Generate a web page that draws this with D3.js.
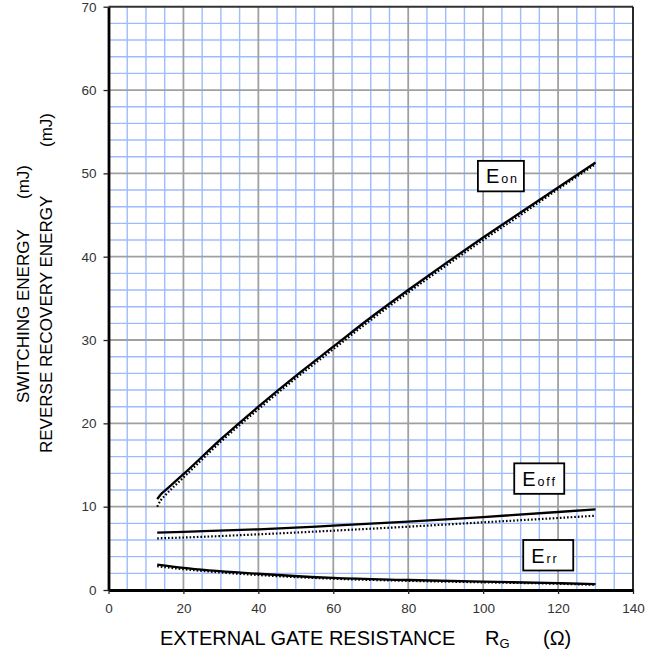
<!DOCTYPE html>
<html><head><meta charset="utf-8">
<script src="https://cdn.jsdelivr.net/npm/d3@7"></script>
<style>
html,body{margin:0;padding:0;background:#fff;}
svg{display:block;font-family:"Liberation Sans",Arial,sans-serif;}
</style></head>
<body><svg id="c" width="658" height="651"></svg>
<script>
// ---- data ----
const xTicks = [0,20,40,60,80,100,120,140];
const yTicks = [0,10,20,30,40,50,60,70];
const xMinor = d3.range(0,141,5);
const yMinor = d3.range(0,71,2);

const eonX    = [13,14,15,20,30,40,50,60,70,80,90,100,110,120,130];
const eonY    = [10.9,11.5,11.9,13.9,18.1,22.0,25.7,29.2,32.7,36.0,39.2,42.3,45.3,48.3,51.3];
const eonDotY = [10.0,10.8,11.3,13.5,17.8,21.7,25.4,28.9,32.4,35.7,38.9,42.0,45.0,48.1,51.1];

const eoffX    = [13,20,40,60,80,100,120,130];
const eoffY    = [6.88,6.98,7.28,7.72,8.2,8.75,9.36,9.68];
const eoffDotY = [6.2,6.3,6.68,7.12,7.6,8.12,8.64,8.92];

const errX    = [13,20,40,60,80,100,120,130];
const errY    = [3.05,2.65,1.95,1.45,1.2,1.0,0.82,0.7];
const errDotY = [2.85,2.5,1.8,1.35,1.1,0.92,0.75,0.62];

const labelMain = ["E","E","E"];
const labelSub  = ["on","off","rr"];
const labelX    = [98.6,108.3,110.7];
const labelY    = [51.5,15.2,6.0];

// ---- layout ----
const svg = d3.select("#c");
const L=108.5, R=633, T=6.7, B=590;
const x = d3.scaleLinear().domain([0,140]).range([L,R]);
const y = d3.scaleLinear().domain([0,70]).range([B,T]);

// minor grid
const g = svg.append("g");
g.selectAll(".vx").data(xMinor.filter(v=>v%20!==0)).join("line")
  .attr("x1",d=>x(d)).attr("x2",d=>x(d)).attr("y1",T).attr("y2",B)
  .attr("stroke","#9dbcff").attr("stroke-width",1.4);
g.selectAll(".hy").data(yMinor.filter(v=>v%10!==0)).join("line")
  .attr("y1",d=>y(d)).attr("y2",d=>y(d)).attr("x1",L).attr("x2",R)
  .attr("stroke","#9dbcff").attr("stroke-width",1.4);
// major grid
g.selectAll(".mx").data(xTicks.slice(1,-1)).join("line")
  .attr("x1",d=>x(d)).attr("x2",d=>x(d)).attr("y1",T).attr("y2",B)
  .attr("stroke","#a0a0a0").attr("stroke-width",1.8);
g.selectAll(".my").data(yTicks.slice(1,-1)).join("line")
  .attr("y1",d=>y(d)).attr("y2",d=>y(d)).attr("x1",L).attr("x2",R)
  .attr("stroke","#a0a0a0").attr("stroke-width",1.8);

// frame
svg.append("line").attr("x1",L).attr("x2",R).attr("y1",T).attr("y2",T).attr("stroke","#333").attr("stroke-width",2);
svg.append("line").attr("x1",R).attr("x2",R).attr("y1",T).attr("y2",B).attr("stroke","#111").attr("stroke-width",1.8);

// axes
const ax = svg.append("g").attr("transform",`translate(0,${B})`)
  .call(d3.axisBottom(x).tickValues(xTicks).tickSize(4).tickPadding(9).tickSizeOuter(0));
const ay = svg.append("g").attr("transform",`translate(${L},0)`)
  .call(d3.axisLeft(y).tickValues(yTicks).tickSize(5).tickPadding(7).tickSizeOuter(0));
[ax,ay].forEach(a=>{
  a.select(".domain").attr("stroke","#000").attr("stroke-width",2.8);
  a.selectAll(".tick line").attr("stroke","#222").attr("stroke-width",1.3);
  a.selectAll(".tick text").attr("fill","#333").style("font-size","13.5px")
    .style("font-family","'Liberation Sans',Arial,sans-serif");
});

// curves
const line = d3.line().x(d=>x(d[0])).y(d=>y(d[1])).curve(d3.curveMonotoneX);
function draw(xs, ys, dotted){
  svg.append("path").datum(xs.map((v,i)=>[v,ys[i]]))
    .attr("d",line).attr("fill","none").attr("stroke","#000")
    .attr("stroke-width",dotted?2.2:2.3)
    .attr("stroke-dasharray",dotted?"1.6,2":null);
}
draw(eonX,eonDotY,true);  draw(eonX,eonY,false);
draw(eoffX,eoffDotY,true); draw(eoffX,eoffY,false);
draw(errX,errDotY,true);  draw(errX,errY,false);

// labels
labelMain.forEach((m,i)=>{
  const bx=x(labelX[i]), by=y(labelY[i]);
  const w = i===0?46:50, h=30.5;
  const lg = svg.append("g").attr("transform",`translate(${bx},${by})`);
  lg.append("rect").attr("width",w).attr("height",h).attr("fill","#fff")
    .attr("stroke","#000").attr("stroke-width",1.8);
  const t = lg.append("text").attr("x",8).attr("y",22.5).attr("fill","#000");
  t.append("tspan").style("font-size","20px").text(m);
  t.append("tspan").attr("dx",2).style("font-size","12.5px").style("letter-spacing","1.8px").text(labelSub[i]);
});

// y label
function ylab(xb, yBottom, yTop, main){
  svg.append("text").attr("transform",`translate(${xb},${yBottom}) rotate(-90)`)
    .attr("text-anchor","start").style("font-size","17px").attr("fill","#000").text(main);
  svg.append("text").attr("transform",`translate(${xb},${yTop}) rotate(-90)`)
    .attr("text-anchor","end").style("font-size","17px").attr("fill","#000").text("(mJ)");
}
ylab(29,403,165,"SWITCHING ENERGY");
ylab(52,453,113,"REVERSE RECOVERY ENERGY");

// x label
const xl = svg.append("text").attr("x",160).attr("y",645).style("font-size","20px").attr("fill","#000");
xl.append("tspan").text("EXTERNAL GATE RESISTANCE");
const rx = svg.append("text").attr("x",485).attr("y",645).style("font-size","20px").attr("fill","#000");
rx.append("tspan").text("R");
rx.append("tspan").attr("dy",3).style("font-size","13px").text("G");
svg.append("text").attr("x",543).attr("y",645).style("font-size","20px").attr("fill","#000").text("(Ω)");
</script></body></html>
